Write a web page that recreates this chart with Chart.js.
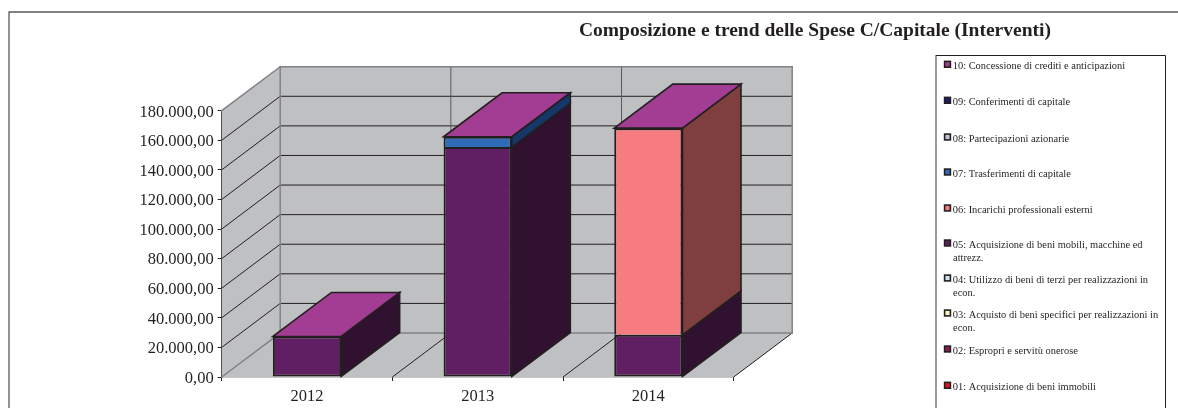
<!DOCTYPE html>
<html><head><meta charset="utf-8">
<style>html,body{margin:0;padding:0;background:#fff}canvas{display:block}</style>
<script src="https://cdn.jsdelivr.net/npm/chart.js@4"></script></head>
<body><canvas id="c" width="1178" height="408"></canvas>
<script>
const categories = ["2012","2013","2014"];
const titleText = "Composizione e trend delle Spese C/Capitale (Interventi)";
const v01 = [0,0,0];
const v02 = [0,0,0];
const v03 = [0,0,0];
const v04 = [0,0,0];
const v05 = [27400,155400,28500];
const v06 = [0,0,139700];
const v07 = [0,7000,0];
const v08 = [0,0,0];
const v09 = [0,0,0];
const v10 = [0,0,0];
const names = ["01: Acquisizione di beni immobili","02: Espropri e servitù onerose","03: Acquisto di beni specifici per realizzazioni in|econ.","04: Utilizzo di beni di terzi per realizzazioni in|econ.","05: Acquisizione di beni mobili, macchine ed|attrezz.","06: Incarichi professionali esterni","07: Trasferimenti di capitale","08: Partecipazioni azionarie","09: Conferimenti di capitale","10: Concessione di crediti e anticipazioni"];
const colors = ["#e8141c","#8a1f50","#f8f4c0","#c8e8f0","#5f1f62","#f67c82","#2f6bb7","#c0bfe0","#1d1e6b","#a33c93"];
const sideColors = ["#74100e","#450f28","#7c7a60","#646478","#30112f","#7f3f3f","#163869","#606070","#0e0f35","#521e4a"];
const legendBaselines = [389.8,353.5,317.5,282.5,247.5,212.5,176.5,141.5,104.8,68.8];
const all = [v01,v02,v03,v04,v05,v06,v07,v08,v09,v10];
const INK = "#231f20", WALL = "#bfc0c2", EDGE = "#808285";
const DX = 58.5, DY = 44;
function poly(ctx, pts, fill, stroke, lw){
  ctx.beginPath(); pts.forEach((p,i)=> i?ctx.lineTo(p[0],p[1]):ctx.moveTo(p[0],p[1])); ctx.closePath();
  if(fill){ctx.fillStyle=fill;ctx.fill();}
  if(stroke){ctx.strokeStyle=stroke;ctx.lineWidth=lw;ctx.lineJoin="miter";ctx.stroke();}
}
function seg(ctx,x1,y1,x2,y2,c,w){ctx.beginPath();ctx.moveTo(x1,y1);ctx.lineTo(x2,y2);ctx.strokeStyle=c;ctx.lineWidth=w;ctx.stroke();}
const scene = {
  id:"scene",
  beforeDatasetsDraw(chart){
    const {ctx,scales:{x,y}} = chart;
    const L=x.left,R=x.right,B=y.bottom,T=y.top;
    ctx.save();
    poly(ctx,[[L+DX,T-DY],[R+DX,T-DY],[R+DX,B-DY],[L+DX,B-DY]],WALL);
    poly(ctx,[[L,T],[L+DX,T-DY],[L+DX,B-DY],[L,B]],WALL);
    poly(ctx,[[L,B],[L+DX,B-DY],[R+DX,B-DY],[R,B]],WALL);
    y.ticks.forEach(t=>{
      const py=y.getPixelForValue(t.value);
      if(t.value===0||t.value===180000) return;
      seg(ctx,L,py,L+DX,py-DY,INK,1);
      seg(ctx,L+DX,py-DY,R+DX,py-DY,INK,1);
    });
    for(let i=1;i<categories.length;i++){
      const px=L+(R-L)*i/categories.length;
      seg(ctx,px,B,px+DX,B-DY,INK,1);
      seg(ctx,px+DX,B-DY,px+DX,T-DY,"#58595b",1);
    }
    seg(ctx,R,B,R+DX,B-DY,INK,1);
    ctx.lineCap="square";
    seg(ctx,L,T,L+DX,T-DY,EDGE,1.5);
    seg(ctx,L+DX,T-DY,R+DX,T-DY,EDGE,1.5);
    seg(ctx,R+DX,T-DY,R+DX,B-DY,EDGE,1.5);
    seg(ctx,L+DX,T-DY,L+DX,B-DY,EDGE,1.5);
    seg(ctx,L+DX,B-DY,R+DX,B-DY,EDGE,1.5);
    seg(ctx,L,B,L+DX,B-DY,EDGE,1.5);
    ctx.restore();
  },
  afterDatasetsDraw(chart){
    const {ctx} = chart;
    ctx.save();
    categories.forEach((_,ci)=>{
      let topEl=null;
      chart.data.datasets.forEach((ds,di)=>{
        const el=chart.getDatasetMeta(di).data[ci];
        if(!ds.data[ci]) return;
        const xr=el.x+el.width/2;
        poly(ctx,[[xr,el.y],[xr+DX,el.y-DY],[xr+DX,el.base-DY],[xr,el.base]],sideColors[di],INK,1.6);
        topEl=el;
      });
      if(topEl){
        const xl=topEl.x-topEl.width/2,xr=topEl.x+topEl.width/2,yy=topEl.y;
        poly(ctx,[[xl,yy],[xl+DX,yy-DY],[xr+DX,yy-DY],[xr,yy]],colors[9],INK,1.6);
      }
    });
    ctx.restore();
  },
  afterDraw(chart){
    const {ctx} = chart;
    ctx.save();
    ctx.strokeStyle="#58595b";ctx.lineWidth=1.3;
    ctx.beginPath();ctx.moveTo(9,408);ctx.lineTo(9,12);ctx.lineTo(1178,12);ctx.stroke();
    ctx.fillStyle=INK;ctx.textBaseline="alphabetic";ctx.textAlign="left";
    ctx.font="bold 19.5px 'Liberation Serif'";
    ctx.fillText(titleText,579,36);
    seg(ctx,936,408,936,55,EDGE,1.6);
    ctx.strokeStyle=INK;ctx.lineWidth=1;
    ctx.beginPath();ctx.moveTo(936,55.5);ctx.lineTo(1165.5,55.5);ctx.lineTo(1165.5,408);ctx.stroke();
    names.forEach((n,i)=>{
      const b=legendBaselines[i];
      ctx.fillStyle=colors[i];ctx.strokeStyle=INK;ctx.lineWidth=1.6;
      ctx.fillRect(944.6,b-7.4,5.8,5.8);ctx.strokeRect(944.6,b-7.4,5.8,5.8);
      ctx.fillStyle=INK;ctx.font="10.45px 'Liberation Serif'";
      const parts=n.split("|");
      ctx.fillText(parts[0],952.7,b);
      if(parts[1]) ctx.fillText(parts[1],953,b+13.5);
    });
    ctx.restore();
  }
};
const datasets = all.map((d,i)=>({
  label:names[i].replace("|"," "),
  data:d,
  backgroundColor:colors[i],
  borderColor:INK,
  borderWidth:ctx=>ctx.raw?2:0,
  borderSkipped:ctx=>all.slice(0,i).some(a=>a[ctx.dataIndex])?"bottom":false,
  stack:"s"
}));
new Chart(document.getElementById("c"),{
  type:"bar",
  data:{labels:categories,datasets},
  plugins:[scene],
  options:{
    responsive:false,animation:false,
    devicePixelRatio:1,
    layout:{padding:{left:0,right:444.3,top:110.7,bottom:0}},
    datasets:{bar:{categoryPercentage:0.4,barPercentage:1}},
    plugins:{legend:{display:false},title:{display:false},tooltip:{enabled:false}},
    scales:{
      x:{stacked:true,
        afterFit(s){s.height=31;},
        grid:{display:true,drawOnChartArea:false,drawTicks:true,tickLength:4,color:INK,lineWidth:1,offset:true},
        border:{display:true,color:INK,width:1.2},
        ticks:{color:INK,padding:6,font:{family:"'Liberation Serif'",size:16.5},maxRotation:0}},
      y:{stacked:true,min:0,max:180000,
        afterFit(s){s.width=221.7;},
        grid:{display:true,drawOnChartArea:false,drawTicks:true,tickLength:4,color:INK,lineWidth:1},
        border:{display:true,color:INK,width:1.2},
        ticks:{stepSize:20000,color:INK,padding:4,labelOffset:1.5,font:{family:"'Liberation Serif'",size:16.5},
          callback:v=>v.toLocaleString("it-IT",{minimumFractionDigits:2,maximumFractionDigits:2}).replace(/^(\d)(\d{3}),/,"$1.$2,")}}
    }
  }
});
</script></body></html>
